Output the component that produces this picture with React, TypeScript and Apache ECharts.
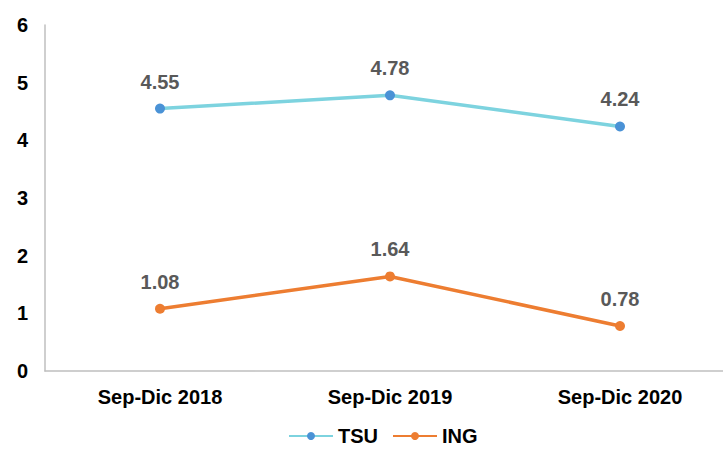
import React, { useEffect, useRef } from "react";
import * as echarts from "echarts";

const categories = ["Sep-Dic 2018", "Sep-Dic 2019", "Sep-Dic 2020"];
const tsuValues = [4.55, 4.78, 4.24];
const ingValues = [1.08, 1.64, 0.78];
const yTicks = [0, 1, 2, 3, 4, 5, 6];

export default function App() {
  const ref = useRef<HTMLDivElement>(null);
  useEffect(() => {
    if (!ref.current) return;
    const chart = echarts.init(ref.current, null, { renderer: "svg" });
    const font = "'Liberation Sans', Arial, sans-serif";
    const labelStyle = {
      show: true,
      position: "top",
      distance: 12,
      color: "#595959",
      fontWeight: "bold",
      fontSize: 20,
      fontFamily: font,
      formatter: (p: any) => p.value.toFixed(2),
    };
    chart.setOption({
      animation: false,
      backgroundColor: "#ffffff",
      grid: { left: 45, right: 0, top: 25, bottom: 80 },
      legend: {
        bottom: 0,
        left: 283,
        itemWidth: 44,
        itemHeight: 10,
        itemGap: 14,
        textStyle: { color: "#000", fontWeight: "bold", fontSize: 20, fontFamily: font },
        data: ["TSU", "ING"],
      },
      xAxis: {
        type: "category",
        data: categories,
        boundaryGap: true,
        axisLine: { lineStyle: { color: "#bfbfbf", width: 1.5 } },
        axisTick: { show: false },
        axisLabel: { color: "#000", fontWeight: "bold", fontSize: 20, fontFamily: font, margin: 16 },
      },
      yAxis: {
        type: "value",
        min: yTicks[0],
        max: yTicks[yTicks.length - 1],
        interval: 1,
        splitLine: { show: false },
        axisLine: { show: true, lineStyle: { color: "#bfbfbf", width: 1.5 } },
        axisTick: { show: false },
        axisLabel: { color: "#000", fontWeight: "bold", fontSize: 20, fontFamily: font, margin: 17 },
      },
      series: [
        {
          name: "TSU",
          type: "line",
          data: tsuValues,
          symbol: "circle",
          symbolSize: 10,
          lineStyle: { color: "#7dd3df", width: 3.5 },
          itemStyle: { color: "#4a92d6" },
          label: labelStyle,
        },
        {
          name: "ING",
          type: "line",
          data: ingValues,
          symbol: "circle",
          symbolSize: 10,
          lineStyle: { color: "#ed7d31", width: 3.5 },
          itemStyle: { color: "#ed7d31" },
          label: labelStyle,
        },
      ],
    });
    return () => chart.dispose();
  }, []);
  return (
    <div style={{ position: "fixed", left: 0, top: 0, width: 723, height: 451, overflow: "hidden" }}>
      <div ref={ref} style={{ width: 735, height: 451 }} />
    </div>
  );
}
